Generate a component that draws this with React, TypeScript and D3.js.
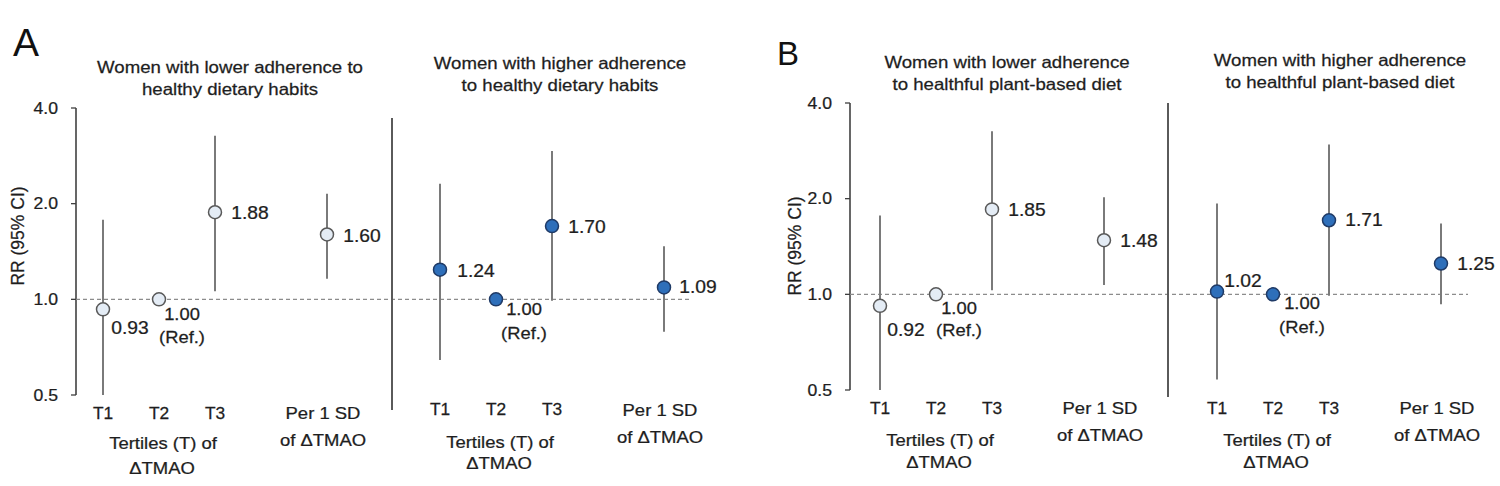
import React from "react";
import * as d3 from "d3";

// ---------- data ----------
const categories = ["T1", "T2", "T3", "Per 1 SD"];
const categoryIndex = [0, 1, 2, 4];
const yTicks = [0.5, 1.0, 2.0, 4.0];

const aLowerRR = [0.93, 1.0, 1.88, 1.6];
const aLowerLo = [0.5, null, 1.06, 1.16];
const aLowerHi = [1.78, null, 3.27, 2.15];

const aHigherRR = [1.24, 1.0, 1.7, 1.09];
const aHigherLo = [0.644, null, 0.99, 0.79];
const aHigherHi = [2.31, null, 2.93, 1.47];

const bLowerRR = [0.92, 1.0, 1.85, 1.48];
const bLowerLo = [0.5, null, 1.03, 1.07];
const bLowerHi = [1.77, null, 3.26, 2.02];

const bHigherRR = [1.02, 1.0, 1.71, 1.25];
const bHigherLo = [0.54, null, 0.99, 0.93];
const bHigherHi = [1.93, null, 2.96, 1.67];

const titles = {
  aLower: ["Women with lower adherence to", "healthy dietary habits"],
  aHigher: ["Women with higher adherence", "to healthy dietary habits"],
  bLower: ["Women with lower adherence", "to healthful plant-based diet"],
  bHigher: ["Women with higher adherence", "to healthful plant-based diet"],
};

// ---------- style ----------
const FONT = "'Liberation Sans', Arial, Helvetica, sans-serif";
const TEXT = "#1e1e1e";
const CI = "#7a7a7a";

type TP = {
  x: number;
  y: number;
  size: number;
  sx?: number;
  anchor?: "start" | "middle" | "end";
  children: React.ReactNode;
};
const Txt = ({ x, y, size, sx = 1, anchor = "start", children }: TP) => (
  <text
    transform={`translate(${x},${y}) scale(${sx},1)`}
    fontSize={size}
    textAnchor={anchor}
    fill={TEXT}
    stroke={TEXT}
    strokeWidth={0.25}
    fontFamily={FONT}
  >
    {children}
  </text>
);

type Group = {
  rr: number[];
  lo: (number | null)[];
  hi: (number | null)[];
  x0: number;
  filled: boolean;
  title: string[];
  titleX: number;
  titleY: number;
  labelOff: [number, number][];
  refDx: number;
  refDy: [number, number];
  xlabY: [number, number, number];
  sdY: [number, number];
};

type Panel = {
  letter: string;
  letterX: number;
  letterY: number;
  letterSize: number;
  axisX: number;
  yTop: number;
  yBottom: number;
  dashEnd: number;
  divX: number;
  divTop: number;
  divBottom: number;
  ylabX: number;
  ylabY: number;
  groups: Group[];
};

const panels: Panel[] = [
  {
    letter: "A",
    letterX: 13,
    letterY: 56,
    letterSize: 39,
    axisX: 76,
    yTop: 108,
    yBottom: 395,
    dashEnd: 692,
    divX: 392,
    divTop: 118,
    divBottom: 410,
    ylabX: 24,
    ylabY: 236,
    groups: [
      {
        rr: aLowerRR, lo: aLowerLo, hi: aLowerHi, x0: 103, filled: false,
        title: titles.aLower, titleX: 230, titleY: 73,
        labelOff: [[27, 19], [0, 0], [35, 1], [35, 2]],
        refDx: 23, refDy: [15, 38],
        xlabY: [419, 449, 474], sdY: [419, 446],
      },
      {
        rr: aHigherRR, lo: aHigherLo, hi: aHigherHi, x0: 440, filled: true,
        title: titles.aHigher, titleX: 560, titleY: 69,
        labelOff: [[36, 1], [0, 0], [35, 1], [34, 0]],
        refDx: 28, refDy: [10, 34],
        xlabY: [415, 448, 469], sdY: [416, 443],
      },
    ],
  },
  {
    letter: "B",
    letterX: 777,
    letterY: 65,
    letterSize: 33,
    axisX: 850,
    yTop: 103,
    yBottom: 390,
    dashEnd: 1468,
    divX: 1168,
    divTop: 103,
    divBottom: 397,
    ylabX: 801,
    ylabY: 246,
    groups: [
      {
        rr: bLowerRR, lo: bLowerLo, hi: bLowerHi, x0: 880, filled: false,
        title: titles.bLower, titleX: 1007, titleY: 68,
        labelOff: [[26, 24], [0, 0], [35, 1], [35, 1]],
        refDx: 23, refDy: [14, 36],
        xlabY: [414, 446, 468], sdY: [414, 441],
      },
      {
        rr: bHigherRR, lo: bHigherLo, hi: bHigherHi, x0: 1217, filled: true,
        title: titles.bHigher, titleX: 1340, titleY: 66,
        labelOff: [[26, -11], [0, 0], [35, 0], [35, 0]],
        refDx: 29, refDy: [9, 33],
        xlabY: [414, 446, 468], sdY: [414, 441],
      },
    ],
  },
];

const PanelView = ({ p }: { p: Panel }) => {
  const y = d3.scaleLog().domain([0.5, 4]).range([p.yBottom, p.yTop]);
  const y1 = y(1);
  return (
    <g>
      <text
        x={p.letterX}
        y={p.letterY}
        fontSize={p.letterSize}
        fill="#111"
        fontFamily={FONT}
      >
        {p.letter}
      </text>
      <line x1={p.axisX} x2={p.axisX} y1={y(4)} y2={y(0.5)} stroke="#404040" strokeWidth={1.6} />
      {yTicks.map((t) => (
        <g key={t}>
          <line x1={p.axisX - 5} x2={p.axisX} y1={y(t)} y2={y(t)} stroke="#404040" strokeWidth={1.3} />
          <Txt x={p.axisX - 18} y={y(t) + 5.5} size={16} sx={1.1} anchor="end">
            {d3.format(".1f")(t)}
          </Txt>
        </g>
      ))}
      <text
        transform={`translate(${p.ylabX},${p.ylabY}) rotate(-90)`}
        fontSize={17.5}
        textAnchor="middle"
        fill={TEXT}
        stroke={TEXT}
        strokeWidth={0.25}
        fontFamily={FONT}
      >
        RR (95% CI)
      </text>
      <line
        x1={p.axisX}
        x2={p.dashEnd}
        y1={y1}
        y2={y1}
        stroke="#8c8c8c"
        strokeWidth={1.2}
        strokeDasharray="4,3"
      />
      <line x1={p.divX} x2={p.divX} y1={p.divTop} y2={p.divBottom} stroke="#5a5a5a" strokeWidth={2} />
      {p.groups.map((g, gi) => {
        const x = d3.scaleLinear().domain([0, 4]).range([g.x0, g.x0 + 224]);
        return (
          <g key={gi}>
            {g.title.map((line, li) => (
              <Txt key={li} x={g.titleX} y={g.titleY + li * 22} size={16.5} sx={1.13} anchor="middle">
                {line}
              </Txt>
            ))}
            {g.rr.map((v, i) =>
              g.lo[i] != null && g.hi[i] != null ? (
                <line
                  key={"ci" + i}
                  x1={x(categoryIndex[i])}
                  x2={x(categoryIndex[i])}
                  y1={y(g.hi[i] as number)}
                  y2={y(g.lo[i] as number)}
                  stroke={CI}
                  strokeWidth={2}
                />
              ) : null
            )}
            {g.rr.map((v, i) => (
              <circle
                key={"pt" + i}
                cx={x(categoryIndex[i])}
                cy={y(v)}
                r={6.5}
                fill={g.filled ? "#2e6fba" : "#e4ecf5"}
                stroke={g.filled ? "#1f3a66" : "#595959"}
                strokeWidth={1.5}
              />
            ))}
            {g.rr.map((v, i) => {
              const cx = x(categoryIndex[i]);
              const cy = y(v);
              if (g.lo[i] == null) {
                return (
                  <g key={"lb" + i}>
                    <Txt x={cx + g.refDx} y={cy + g.refDy[0] + 6} size={17} sx={1.08} anchor="middle">
                      {d3.format(".2f")(v)}
                    </Txt>
                    <Txt x={cx + g.refDx} y={cy + g.refDy[1] + 6} size={17} sx={1.08} anchor="middle">
                      (Ref.)
                    </Txt>
                  </g>
                );
              }
              const [dx, dy] = g.labelOff[i];
              return (
                <Txt key={"lb" + i} x={cx + dx} y={cy + dy + 6} size={17.5} sx={1.1} anchor="middle">
                  {d3.format(".2f")(v)}
                </Txt>
              );
            })}
            {categories.slice(0, 3).map((c, i) => (
              <Txt key={c} x={x(categoryIndex[i])} y={g.xlabY[0]} size={16.5} sx={1.05} anchor="middle">
                {c}
              </Txt>
            ))}
            <Txt x={x(1) + 4} y={g.xlabY[1]} size={16.5} sx={1.12} anchor="middle">
              Tertiles (T) of
            </Txt>
            <Txt x={x(1) + 3} y={g.xlabY[2]} size={16.5} sx={1.12} anchor="middle">
              ΔTMAO
            </Txt>
            <Txt x={x(4) - 4} y={g.sdY[0]} size={16.5} sx={1.12} anchor="middle">
              {categories[3]}
            </Txt>
            <Txt x={x(4) - 4} y={g.sdY[1]} size={16.5} sx={1.12} anchor="middle">
              of ΔTMAO
            </Txt>
          </g>
        );
      })}
    </g>
  );
};

export default function App() {
  return (
    <svg
      width={1500}
      height={486}
      style={{ position: "absolute", left: 0, top: 0, background: "#fff" }}
    >
      <rect width={1500} height={486} fill="#fff" />
      {panels.map((p) => (
        <PanelView key={p.letter} p={p} />
      ))}
    </svg>
  );
}
